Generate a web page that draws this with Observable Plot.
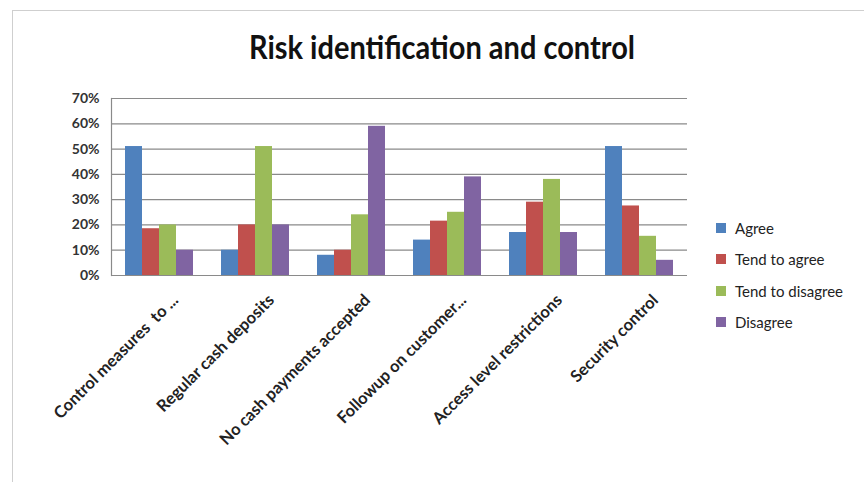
<!DOCTYPE html>
<html><head><meta charset="utf-8">
<script src="https://cdn.jsdelivr.net/npm/d3@7"></script>
<script src="https://cdn.jsdelivr.net/npm/@observablehq/plot@0.6"></script>
<style>
body{margin:0;background:#fff;}
#wrap{position:relative;width:864px;height:482px;overflow:hidden;font-family:Lato,"Open Sans",sans-serif;}
#border{position:absolute;left:12px;top:10px;width:900px;height:520px;border:1px solid #cfcfcf;}
#title{position:absolute;left:0;width:884px;top:29px;text-align:center;font-size:29px;font-weight:bold;color:#111;transform:scaleY(1.1);}
#legend{position:absolute;left:716px;top:212px;font-size:15px;color:#222;}
#legend div{height:31.5px;display:flex;align-items:center;}
#legend span.sw{display:inline-block;width:10px;height:10px;margin-right:9px;}
#chart{position:absolute;left:0;top:0;}
</style></head>
<body>
<div id="wrap">
<div id="border"></div>
<div id="chart"></div>
<div id="title">Risk identification and control</div>
<div id="legend"></div>
</div>
<script>
const categories = ["Control measures  to ...", "Regular cash deposits", "No cash payments accepted", "Followup on customer...", "Access level restrictions", "Security control"];
const seriesNames = ["Agree", "Tend to agree", "Tend to disagree", "Disagree"];
const colors = ["#4F81BD", "#C0504D", "#9BBB59", "#8064A2"];
const agree = [51, 10, 8, 14, 17, 51];
const tendAgree = [18.5, 20, 10, 21.5, 29, 27.5];
const tendDisagree = [20, 51, 24, 25, 38, 15.5];
const disagree = [10, 20, 59, 39, 17, 6];
const yTicks = [0, 0.1, 0.2, 0.3, 0.4, 0.5, 0.6, 0.7];

const seriesValues = [agree, tendAgree, tendDisagree, disagree];
const data = [];
categories.forEach((c, i) => seriesValues.forEach((vals, s) => data.push({category: c, series: seriesNames[s], value: vals[i] / 100})));

const plot = Plot.plot({
  width: 864, height: 482,
  marginLeft: 110, marginRight: 176, marginTop: 98, marginBottom: 207,
  style: {fontFamily: "Lato, 'Open Sans', sans-serif", background: "transparent"},
  fx: {domain: categories, padding: 0, label: null},
  x: {domain: seriesNames, paddingInner: 0, paddingOuter: 0.8, axis: null},
  y: {domain: [0, 0.7], label: null},
  color: {domain: seriesNames, range: colors},
  marks: [
    Plot.ruleY(yTicks, {stroke: "#8a8a8a", strokeWidth: 1.2}),
    Plot.barY(data, {fx: "category", x: "series", y: "value", fill: "series"}),
    Plot.axisY({ticks: yTicks, tickFormat: d3.format(".0%"), tickSize: 0, tickPadding: 12, fontSize: 14, fontWeight: "bold", fill: "#333", label: null}),
    Plot.axisFx({anchor: "bottom", tickRotate: -45, tickSize: 0, tickPadding: 14, dx: 16, dy: 8, fontSize: 16.5, fontWeight: "bold", fill: "#222", label: null, style: {letterSpacing: "0.8px"}}),
    Plot.frame({anchor: "left", facetAnchor: "left", stroke: "#8a8a8a", strokeWidth: 1.2})
  ]
});
document.getElementById("chart").appendChild(plot);

const leg = document.getElementById("legend");
seriesNames.forEach((n, i) => {
  const d = document.createElement("div");
  d.innerHTML = `<span class="sw" style="background:${colors[i]}"></span>${n}`;
  leg.appendChild(d);
});
</script>
</body></html>
